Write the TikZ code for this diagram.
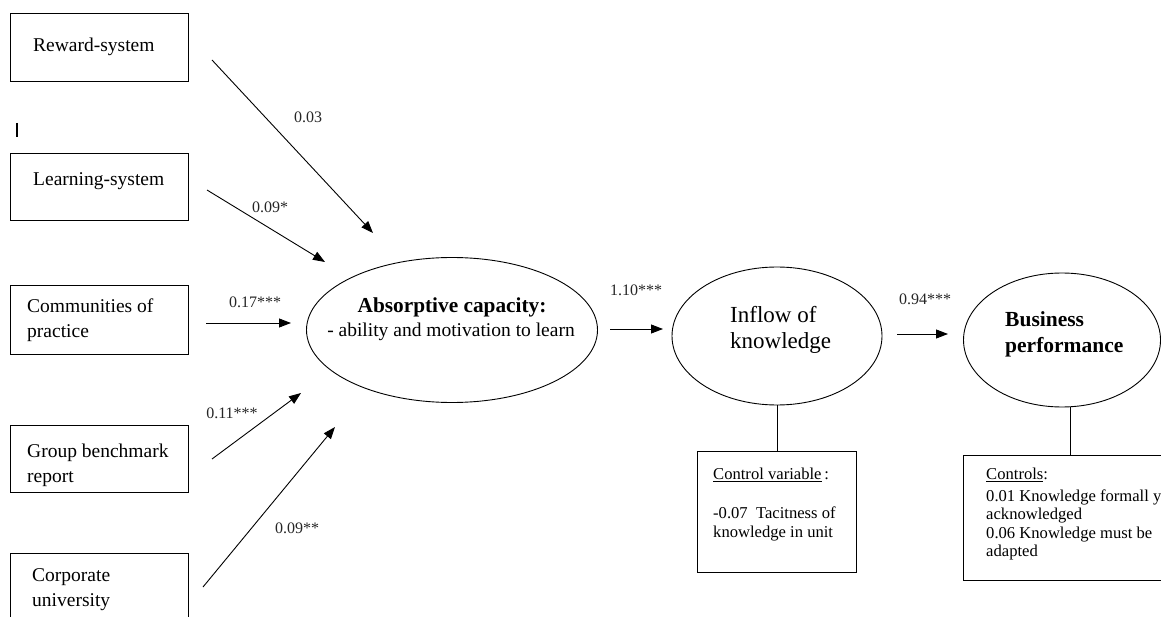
\documentclass[tikz,border=0pt]{standalone}
\usepackage{fontspec}
\setmainfont{Liberation Serif}
\usetikzlibrary{arrows.meta,shapes.geometric}
\begin{document}
\begin{tikzpicture}[x=1pt,y=-1pt,
  src/.style={draw, line width=1.3pt, minimum width=178pt, anchor=north west, inner sep=0pt},
  lbl/.style={font=\fontsize{19.5}{25}\selectfont, anchor=west, align=left, inner sep=0pt},
  coef/.style={font=\fontsize{16}{18}\selectfont, text=black!85, inner sep=0pt},
  arr/.style={-{Triangle[length=12pt,width=9pt]}, line width=0.9pt},
  ell/.style={draw, ellipse, line width=0.9pt, inner sep=0pt},
  ctl/.style={draw, line width=1.1pt, anchor=north west, inner sep=0pt},
  ctxt/.style={font=\fontsize{16.6}{18.5}\selectfont, anchor=west, align=left, inner sep=0pt},
]
\useasboundingbox (0,0) rectangle (1161,617);
\fill[white] (0,0) rectangle (1161,617);

% source boxes
\node[src, minimum height=68pt] (rw) at (10,13) {};
\node[src, minimum height=67pt] (ls) at (10,153) {};
\node[src, minimum height=69pt] (cp) at (10,285) {};
\node[src, minimum height=67pt] (gb) at (10,425) {};
\node[src, minimum height=90pt] (cu) at (10,553) {};

\node[lbl] (rwt) at (33,47) {Reward-system};
\node[lbl] (lst) at (33,181) {Learning-system};
\node[lbl] (cpt) at (27,320) {Communities of\\practice};
\node[lbl] (gbt) at (27,465) {Group benchmark\\report};
\node[lbl] (cut) at (32,590) {Corporate\\university};

% stray mark
\draw[line width=1.6pt] (17,123) -- (17,137);

% ellipses
\node[ell, minimum width=291pt, minimum height=145pt] (ac) at (452,330) {};
\node[ell, minimum width=210pt, minimum height=138pt] (ik) at (777,336) {};
\node[ell, minimum width=197pt, minimum height=134pt] (bp) at (1062,340) {};

\node[font=\bfseries\fontsize{21.3}{24}\selectfont, inner sep=0pt] (act) at (452,307) {Absorptive capacity:};
\node[font=\fontsize{19.5}{22}\selectfont, inner sep=0pt] (acs) at (451,332) {- ability and motivation to learn};
\node[font=\fontsize{23}{26}\selectfont, anchor=west, align=left, inner sep=0pt] (ikt) at (730,330) {Inflow of\\knowledge};
\node[font=\bfseries\fontsize{21.5}{26}\selectfont, anchor=west, align=left, inner sep=0pt] (bpt) at (1005,334) {Business\\performance};

% arrow endpoints
\coordinate (a1s) at (212,60);  \coordinate (a1e) at (373,233);
\coordinate (a2s) at (207,190); \coordinate (a2e) at (325,262);
\coordinate (a3s) at (206,323); \coordinate (a3e) at (291,323);
\coordinate (a4s) at (212,459); \coordinate (a4e) at (301,393);
\coordinate (a5s) at (203,587); \coordinate (a5e) at (335,427);
\coordinate (a6s) at (610,329); \coordinate (a6e) at (663,329);
\coordinate (a7s) at (897,334); \coordinate (a7e) at (948,334);

\draw[arr] (a1s) -- (a1e);
\draw[arr] (a2s) -- (a2e);
\draw[arr] (a3s) -- (a3e);
\draw[arr] (a4s) -- (a4e);
\draw[arr] (a5s) -- (a5e);
\draw[arr] (a6s) -- (a6e);
\draw[arr] (a7s) -- (a7e);

\node[coef] (c1) at (308,117) {0.03};
\node[coef] (c2) at (270,207) {0.09*};
\node[coef] (c3) at (255,302) {0.17***};
\node[coef] (c4) at (232,413) {0.11***};
\node[coef] (c5) at (297,528) {0.09**};
\node[coef] (c6) at (636,290) {1.10***};
\node[coef] (c7) at (925,299) {0.94***};

% control boxes
\node[ctl, minimum width=159pt, minimum height=121pt] (cv) at (697,451) {};
\node[ctl, minimum width=217pt, minimum height=125pt] (cb) at (963,455) {};
\draw[line width=1pt] (cv.north) -- (cv.north |- ik.south);
\draw[line width=1pt] (1070,455) -- (1070,407);

\node[ctxt] (cv1) at (713,475) {\underline{Control variable}\,:};
\node[ctxt] (cv2) at (713,524) {-0.07\ \ Tacitness of\\knowledge in unit};
\node[ctxt] (cb1) at (986,475) {\underline{Controls}:};
\node[ctxt] (cb2) at (986,525) {0.01 Knowledge formall y\\acknowledged\\0.06 Knowledge must be\\adapted};
\end{tikzpicture}
\end{document}
